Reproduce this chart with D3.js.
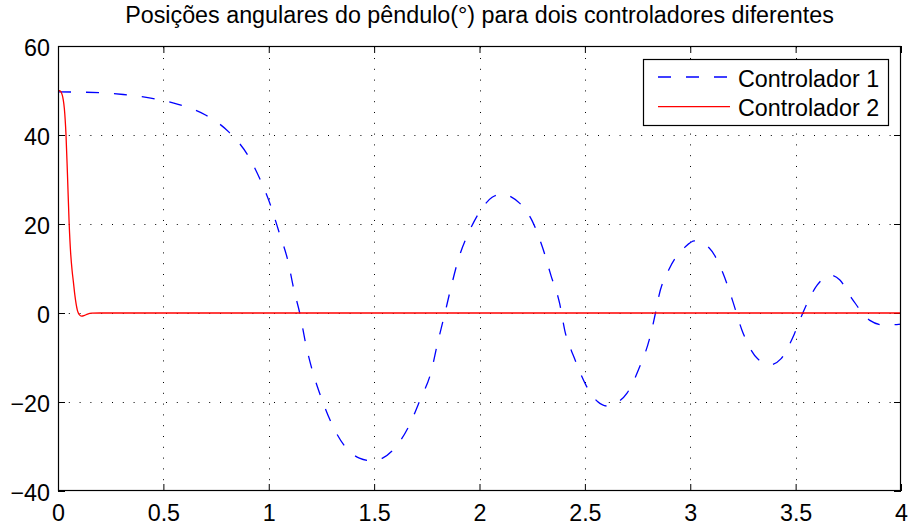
<!DOCTYPE html>
<html><head><meta charset="utf-8">
<script src="https://cdn.jsdelivr.net/npm/d3@7"></script>
<style>body{margin:0;background:#fff}svg{display:block}text{font-family:"Liberation Sans",Arial,sans-serif;fill:#000}</style>
</head><body>
<script>
const title = "Posições angulares do pêndulo(°) para dois controladores diferentes";
const seriesNames = ["Controlador 1", "Controlador 2"];
const xTicks = [0, 0.5, 1, 1.5, 2, 2.5, 3, 3.5, 4];
const yTicks = [-40, -20, 0, 20, 40, 60];
// Controlador 1 (blue dashed)
const t1 = [0,0.2,0.31,0.44,0.57,0.70,0.81,0.90,0.96,1.01,1.05,1.09,1.12,1.147,1.178,1.205,1.245,1.295,1.36,1.43,1.49,1.54,1.595,1.665,1.72,1.77,1.80,1.836,1.865,1.90,1.95,2.01,2.06,2.105,2.15,2.19,2.25,2.30,2.34,2.38,2.405,2.45,2.505,2.56,2.605,2.65,2.70,2.76,2.805,2.835,2.85,2.90,2.975,3.02,3.09,3.155,3.20,3.245,3.32,3.38,3.43,3.494,3.534,3.603,3.663,3.71,3.768,3.85,3.92,3.98,4.0];
const y1 = [49.7,49.5,49.1,48.3,46.9,44.5,40.7,35.5,29.9,24.0,18.0,11.9,5.1,0,-7.5,-12.6,-18.5,-24.5,-29.9,-32.6,-33.2,-32.6,-30.5,-25.4,-19.3,-13.3,-7.0,0,5.8,12.1,18.2,23.4,26.0,26.7,26.1,24.7,20.7,14.6,8.3,2.2,-4.0,-10.1,-16.2,-19.9,-20.9,-20.2,-18.0,-12.1,-6.1,0,3.6,9.9,14.8,16.2,14.6,9.0,2.9,-3.8,-10.3,-11.6,-10.3,-4.7,0,6.3,8.5,7.4,3.2,-1.6,-2.7,-2.6,-2.5];
// Controlador 2 (red solid)
const t2 = [0,0.01,0.02,0.025,0.03,0.038,0.045,0.053,0.06,0.067,0.073,0.08,0.092,0.1,0.112,0.125,0.14,0.16,0.2,0.3,1,2,3,4];
const y2 = [50,49.9,49,47.9,46,40,31,20,13.5,9.5,7,4,0.6,-0.3,-0.7,-0.55,-0.25,-0.05,0,0,0,0,0,0];

const W = 910, H = 527;
const L = 58, R = 901, T = 46, B = 491;
const FS = "23.3px";
const svg = d3.select("body").append("svg").attr("width", W).attr("height", H);
const x = d3.scaleLinear().domain([0, 4]).range([L, R]);
const y = d3.scaleLinear().domain([-40, 60]).range([B, T]);

// grid
const grid = svg.append("g").attr("stroke", "#000").attr("stroke-width", 1).attr("stroke-dasharray", "1,9.8");
grid.selectAll("line.v").data(xTicks.slice(1, -1)).join("line")
  .attr("x1", d => Math.round(x(d)) + 0.5).attr("x2", d => Math.round(x(d)) + 0.5)
  .attr("y1", B).attr("y2", T);
grid.selectAll("line.h").data(yTicks.slice(1, -1)).join("line")
  .attr("y1", d => Math.round(y(d)) + 0.5).attr("y2", d => Math.round(y(d)) + 0.5)
  .attr("x1", L).attr("x2", R);

// axes (inward ticks on all sides)
const tk = 7;
const fmt = d => (d < 0 ? "\u2212" + Math.abs(d) : String(d));
const axB = svg.append("g").attr("transform", `translate(0,${B})`)
  .call(d3.axisBottom(x).tickValues(xTicks).tickSizeInner(-tk).tickSizeOuter(0).tickPadding(16).tickFormat(fmt));
const axT = svg.append("g").attr("transform", `translate(0,${T})`)
  .call(d3.axisTop(x).tickValues(xTicks).tickSizeInner(-tk).tickSizeOuter(0).tickFormat(""));
const axL = svg.append("g").attr("transform", `translate(${L},0)`)
  .call(d3.axisLeft(y).tickValues(yTicks).tickSizeInner(-tk).tickSizeOuter(0).tickPadding(16).tickFormat(fmt));
const axR = svg.append("g").attr("transform", `translate(${R},0)`)
  .call(d3.axisRight(y).tickValues(yTicks).tickSizeInner(-tk).tickSizeOuter(0).tickFormat(""));
[axB, axT, axL, axR].forEach(a => {
  a.select(".domain").remove();
  a.selectAll("line").attr("stroke", "#000");
  a.selectAll("text").style("font-family", '"Liberation Sans",Arial,sans-serif').style("font-size", FS).attr("fill", "#000");
});
axB.selectAll("text").attr("dy", "0.71em").attr("y", 13);
axL.selectAll("text").attr("x", -8).attr("dy", "0.42em");

// data lines
const clip = svg.append("clipPath").attr("id", "c").append("rect").attr("x", L).attr("y", T).attr("width", R - L).attr("height", B - T);
const line = d3.line().x(d => x(d[0])).y(d => y(d[1])).curve(d3.curveMonotoneX);
const d1 = t1.map((t, i) => [t, y1[i]]);
const d2 = t2.map((t, i) => [t, y2[i]]);
svg.append("path").datum(d1).attr("d", line).attr("fill", "none").attr("stroke", "#0000ff")
  .attr("stroke-width", 1.3).attr("stroke-dasharray", "13,15").attr("clip-path", "url(#c)");
svg.append("path").datum(d2).attr("d", line).attr("fill", "none").attr("stroke", "#ff0000")
  .attr("stroke-width", 1.3).attr("clip-path", "url(#c)");

// box
svg.append("rect").attr("x", L + 0.5).attr("y", T + 0.5).attr("width", R - L - 1).attr("height", B - T - 1)
  .attr("fill", "none").attr("stroke", "#000").attr("stroke-width", 1.2);

// title
svg.append("text").attr("x", (L + R) / 2).attr("y", 23).attr("text-anchor", "middle")
  .style("font-size", FS).text(title);

// legend
const lg = svg.append("g");
lg.append("rect").attr("x", 643.5).attr("y", 59.5).attr("width", 245).attr("height", 66)
  .attr("fill", "#fff").attr("stroke", "#000").attr("stroke-width", 1.2);
const rows = [77, 106.7];
const styles = [{c: "#0000ff", dash: "13,15"}, {c: "#ff0000", dash: null}];
seriesNames.forEach((n, i) => {
  lg.append("line").attr("x1", 658).attr("x2", 730).attr("y1", rows[i]).attr("y2", rows[i])
    .attr("stroke", styles[i].c).attr("stroke-width", 1.3).attr("stroke-dasharray", styles[i].dash);
  lg.append("text").attr("x", 738).attr("y", rows[i]).attr("dy", "0.41em").style("font-size", FS).text(n);
});
</script>
</body></html>
